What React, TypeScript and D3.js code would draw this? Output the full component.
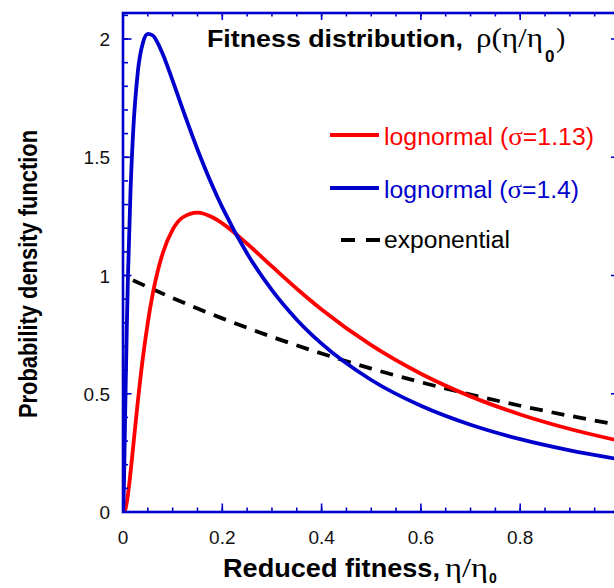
import React from "react";
import * as d3 from "d3";

// ---- data ----
const xLognormal = [0, 0.001, 0.002, 0.003, 0.005, 0.0075, 0.01, 0.015, 0.02, 0.03, 0.04, 0.05, 0.06, 0.07, 0.08, 0.1, 0.12, 0.15, 0.18, 0.2, 0.25, 0.3, 0.35, 0.4, 0.5, 0.6, 0.7, 0.8, 0.9, 1.0];
const lognormal113 = [0, 0.0001, 0.0009, 0.0033, 0.0143, 0.0393, 0.0745, 0.1639, 0.2657, 0.4698, 0.6508, 0.8014, 0.9231, 1.0192, 1.094, 1.1937, 1.2452, 1.2656, 1.2461, 1.2204, 1.1345, 1.0383, 0.944, 0.8563, 0.7053, 0.5847, 0.4889, 0.4125, 0.351, 0.301];
const lognormal14 = [0, 0.0365, 0.1311, 0.2478, 0.4895, 0.7644, 0.9973, 1.3496, 1.5898, 1.8639, 1.9833, 2.0215, 2.0148, 1.9827, 1.9364, 1.8238, 1.7043, 1.5329, 1.3794, 1.2879, 1.0928, 0.9378, 0.8132, 0.7117, 0.5581, 0.449, 0.3687, 0.3078, 0.2605, 0.223];
const xExponential = [0.02, 0.05, 0.1, 0.15, 0.2, 0.3, 0.4, 0.5, 0.6, 0.7, 0.8, 0.9, 1.0];
const exponential = [0.9802, 0.9512, 0.9048, 0.8607, 0.8187, 0.7408, 0.6703, 0.6065, 0.5488, 0.4966, 0.4493, 0.4066, 0.3679];

const xTickValues = [0, 0.2, 0.4, 0.6, 0.8];
const xTickLabels = ["0", "0.2", "0.4", "0.6", "0.8"];
const yTickValues = [0, 0.5, 1, 1.5, 2];
const yTickLabels = ["0", "0.5", "1", "1.5", "2"];
const legendLabels = ["lognormal (", "σ", "=1.13)", "lognormal (", "σ", "=1.4)", "exponential"];

// ---- layout ----
const W = 614, H = 588;
const left = 123, top = 13, right = 619.5, bottom = 512;
const AX = "#0000CC";
const SANS = "'Liberation Sans', Arial, sans-serif";
const SERIF = "'Liberation Serif', 'Times New Roman', serif";

export default function App() {
  const x = d3.scaleLinear().domain([0, 1]).range([left, right]);
  const y = d3.scaleLinear().domain([0, 2.11]).range([bottom, top]);

  const line = d3
    .line<[number, number]>()
    .x((d) => x(d[0]))
    .y((d) => y(d[1]))
    .curve(d3.curveMonotoneX);

  const red = line(xLognormal.map((v, i) => [v, lognormal113[i]] as [number, number]));
  const blue = line(xLognormal.map((v, i) => [v, lognormal14[i]] as [number, number]));
  const dash = line(xExponential.map((v, i) => [v, exponential[i]] as [number, number]));

  const xMinor = d3.range(0, 1.0001, 0.05);
  const xMajor = d3.range(0, 1.0001, 0.2);
  const yMinor = d3.range(0, 2.1001, 0.1);
  const yMajor = d3.range(0, 2.0001, 0.5);

  return (
    <svg width={W} height={H} style={{ position: "absolute", left: 0, top: 0, background: "#fff" }}>
      <defs>
        <clipPath id="plot">
          <rect x={left} y={top} width={right - left} height={bottom - top} />
        </clipPath>
      </defs>
      <rect x={0} y={0} width={W} height={H} fill="#fff" />

      {/* curves */}
      <g clipPath="url(#plot)" fill="none" strokeLinejoin="round">
        <path d={dash || ""} stroke="#000" strokeWidth={3.8} strokeDasharray="13 9" />
        <path d={red || ""} stroke="#FF0000" strokeWidth={3.8} />
        <path d={blue || ""} stroke="#0000CC" strokeWidth={3.8} />
      </g>

      {/* ticks */}
      <g stroke={AX} strokeWidth={1.6}>
        {xMinor.map((t, i) => (
          <g key={"xm" + i}>
            <line x1={x(t)} x2={x(t)} y1={bottom} y2={bottom - 4.5} />
            <line x1={x(t)} x2={x(t)} y1={top} y2={top + 3.5} />
          </g>
        ))}
        {xMajor.map((t, i) => (
          <g key={"xM" + i}>
            <line x1={x(t)} x2={x(t)} y1={bottom} y2={bottom - 8.5} />
            <line x1={x(t)} x2={x(t)} y1={top} y2={top + 7} />
          </g>
        ))}
        {yMinor.map((t, i) => (
          <g key={"ym" + i}>
            <line x1={left} x2={left + 5} y1={y(t)} y2={y(t)} />
            <line x1={right} x2={right - 5} y1={y(t)} y2={y(t)} />
          </g>
        ))}
        {yMajor.map((t, i) => (
          <g key={"yM" + i}>
            <line x1={left} x2={left + 8.5} y1={y(t)} y2={y(t)} />
            <line x1={right} x2={right - 8.5} y1={y(t)} y2={y(t)} />
          </g>
        ))}
      </g>
      {/* frame */}
      <rect x={left} y={top} width={right - left} height={bottom - top} fill="none" stroke={AX} strokeWidth={2.6} />

      {/* tick labels */}
      <g fontFamily={SANS} fontSize={19} fill="#111">
        {xTickLabels.map((s, i) => (
          <text key={"xl" + i} x={x(xTickValues[i])} y={544} textAnchor="middle">{s}</text>
        ))}
        {yTickLabels.map((s, i) => (
          <text key={"yl" + i} x={110} y={y(yTickValues[i]) + 7} textAnchor="end">{s}</text>
        ))}
      </g>

      {/* title */}
      <text x={207} y={47} fontFamily={SANS} fontWeight="bold" fontSize={24} fill="#000" textLength={256} lengthAdjust="spacingAndGlyphs">Fitness distribution,</text>
      <text x={476} y={47} fontFamily={SERIF} fontSize={28} fill="#000" textLength={67} lengthAdjust="spacingAndGlyphs">ρ(η/η</text>
      <text x={545} y={62} fontFamily={SANS} fontWeight="bold" fontSize={17} fill="#000">0</text>
      <text x={556} y={47} fontFamily={SERIF} fontSize={28} fill="#000">)</text>

      {/* x label */}
      <text x={223} y={577} fontFamily={SANS} fontWeight="bold" fontSize={26} fill="#000" textLength={217} lengthAdjust="spacingAndGlyphs">Reduced fitness,</text>
      <text x={445} y={577} fontFamily={SERIF} fontSize={28} fill="#000" textLength={43} lengthAdjust="spacingAndGlyphs">η/η</text>
      <text x={489} y={583} fontFamily={SANS} fontWeight="bold" fontSize={14} fill="#000">0</text>

      {/* y label */}
      <text transform="translate(37,418) rotate(-90)" fontFamily={SANS} fontWeight="bold" fontSize={26.5} fill="#000" textLength={288} lengthAdjust="spacingAndGlyphs">Probability density function</text>

      {/* legend */}
      <line x1={330} x2={379} y1={135} y2={135} stroke="#FF0000" strokeWidth={3.8} />
      <text x={384} y={145} fontFamily={SANS} fontSize={23} fill="#FF0000" textLength={210} lengthAdjust="spacingAndGlyphs">
        {legendLabels[0]}<tspan fontFamily={SERIF} fontSize={25}>{legendLabels[1]}</tspan>{legendLabels[2]}
      </text>
      <line x1={330} x2={379} y1={188} y2={188} stroke="#0000CC" strokeWidth={3.8} />
      <text x={384} y={198} fontFamily={SANS} fontSize={23} fill="#0000CC" textLength={195} lengthAdjust="spacingAndGlyphs">
        {legendLabels[3]}<tspan fontFamily={SERIF} fontSize={25}>{legendLabels[4]}</tspan>{legendLabels[5]}
      </text>
      <line x1={341} x2={380} y1={240} y2={240} stroke="#000" strokeWidth={3.8} strokeDasharray="14 11" />
      <text x={384} y={248} fontFamily={SANS} fontSize={23} fill="#000" textLength={126} lengthAdjust="spacingAndGlyphs">{legendLabels[6]}</text>
    </svg>
  );
}
